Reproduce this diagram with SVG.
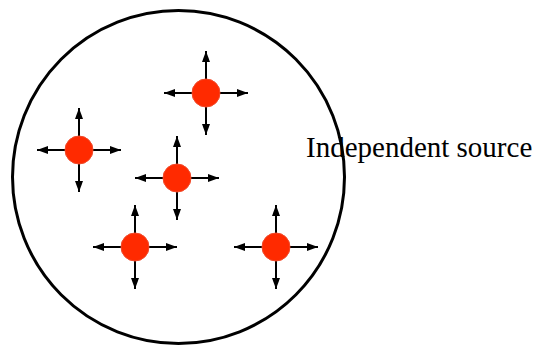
<svg xmlns="http://www.w3.org/2000/svg" width="538" height="347" viewBox="0 0 538 347">
<defs>
<style>
.ring{fill:none;stroke:#000;stroke-width:3}
.dot{fill:#ff2a00;stroke:#f04a2a;stroke-width:1}
.ar{stroke:#000;stroke-width:2;fill:none;marker-end:url(#ah)}
</style>
<marker id="ah" viewBox="0 0 11 8" refX="11" refY="4" markerWidth="11" markerHeight="8" markerUnits="userSpaceOnUse" orient="auto">
<path d="M0,0 L11,4 L0,8 Z" fill="#000"/>
</marker>
<g id="src">
<path class="ar" d="M0,0 H42"/>
<path class="ar" d="M0,0 H-42"/>
<path class="ar" d="M0,0 V42"/>
<path class="ar" d="M0,0 V-42"/>
<circle class="dot" r="14"/>
</g>
</defs>
<g id="boundary"><ellipse class="ring" cx="178.5" cy="177" rx="166" ry="166.5"/></g>
<g id="connectors"></g>
<g id="source1"><use href="#src" x="206" y="93"/></g>
<g id="source2"><use href="#src" x="79" y="150"/></g>
<g id="source3"><use href="#src" x="177" y="178"/></g>
<g id="source4"><use href="#src" x="135" y="247"/></g>
<g id="source5"><use href="#src" x="276" y="247"/></g>
<g id="label"><text x="306" y="157" font-family="'Liberation Serif', 'DejaVu Serif', serif" font-size="29" fill="#000">Independent source</text></g>
</svg>
